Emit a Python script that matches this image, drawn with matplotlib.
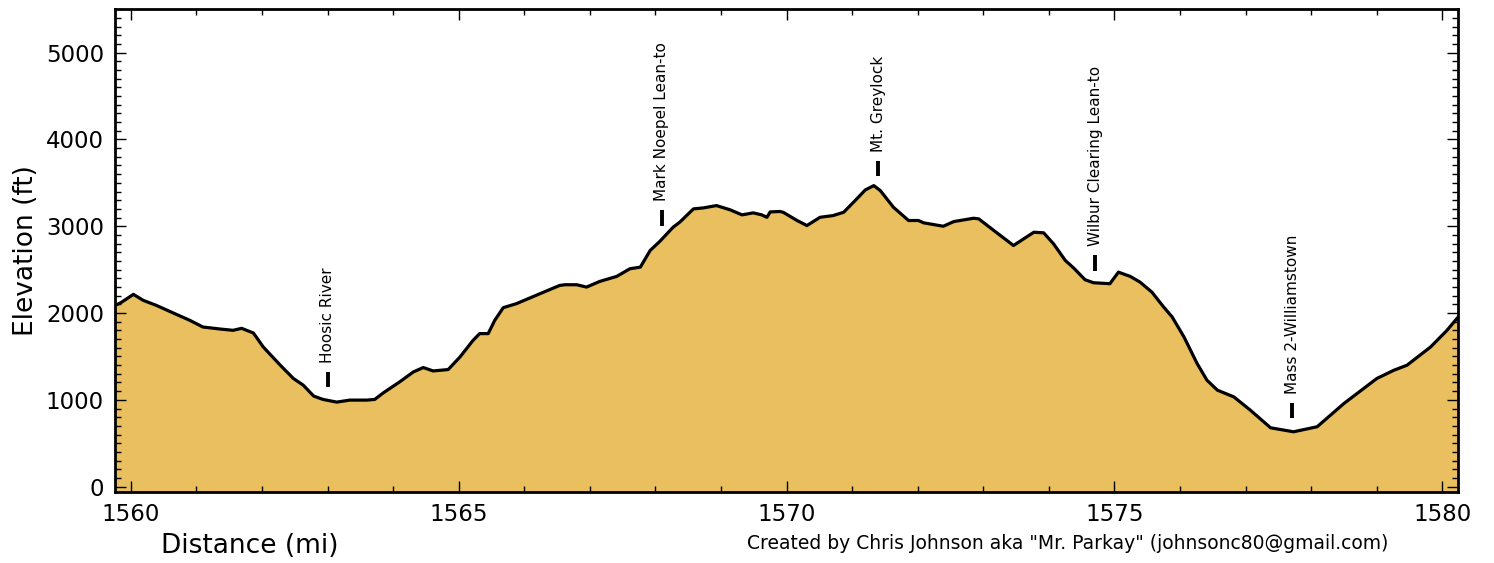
import matplotlib
matplotlib.use("Agg")
import matplotlib.pyplot as plt
from matplotlib.ticker import MultipleLocator

# --- dados do perfil (milha AT, elevacao em pes) ---
milhas = [1559.76, 1559.85, 1560.04, 1560.19, 1560.39, 1560.65, 1560.90, 1561.10,
          1561.36, 1561.56, 1561.69, 1561.87, 1562.02, 1562.28, 1562.48, 1562.63,
          1562.79, 1562.93, 1563.14, 1563.34, 1563.60, 1563.72, 1563.85, 1564.10,
          1564.31, 1564.46, 1564.61, 1564.84, 1565.02, 1565.22, 1565.32, 1565.45,
          1565.55, 1565.68, 1565.88, 1566.24, 1566.54, 1566.62, 1566.80, 1566.95,
          1567.15, 1567.41, 1567.61, 1567.77, 1567.92, 1568.07, 1568.27, 1568.37,
          1568.58, 1568.73, 1568.93, 1569.14, 1569.32, 1569.49, 1569.62, 1569.70,
          1569.75, 1569.90, 1569.95, 1570.16, 1570.31, 1570.51, 1570.71, 1570.87,
          1571.02, 1571.20, 1571.33, 1571.43, 1571.63, 1571.86, 1572.01, 1572.09,
          1572.39, 1572.55, 1572.85, 1572.93, 1573.16, 1573.46, 1573.77, 1573.92,
          1574.07, 1574.25, 1574.38, 1574.55, 1574.68, 1574.93, 1575.06, 1575.24,
          1575.39, 1575.57, 1575.75, 1575.88, 1576.06, 1576.26, 1576.41, 1576.57,
          1576.82, 1577.07, 1577.38, 1577.73, 1578.09, 1578.50, 1579.00, 1579.26,
          1579.46, 1579.82, 1580.07, 1580.24]
elevacao = [2087, 2120, 2215, 2146, 2088, 2000, 1916, 1839,
            1816, 1801, 1824, 1770, 1609, 1399, 1246, 1169,
            1043, 1005, 974, 997, 997, 1005, 1080, 1207,
            1322, 1372, 1333, 1349, 1494, 1686, 1763, 1763,
            1916, 2062, 2108, 2223, 2318, 2326, 2326, 2299,
            2364, 2422, 2510, 2529, 2721, 2828, 2989, 3046,
            3200, 3211, 3238, 3189, 3131, 3154, 3131, 3103,
            3165, 3170, 3160, 3066, 3008, 3103, 3123, 3161,
            3276, 3418, 3468, 3410, 3218, 3066, 3066, 3039,
            3000, 3054, 3092, 3085, 2951, 2778, 2931, 2924,
            2798, 2606, 2517, 2384, 2349, 2338, 2471, 2422,
            2356, 2241, 2069, 1954, 1724, 1418, 1226, 1111,
            1034, 882, 678, 632, 690, 959, 1246, 1341,
            1399, 1609, 1801, 1954]

# --- pontos de referencia ---
locais = ["Hoosic River", "Mark Noepel Lean-to", "Mt. Greylock",
          "Wilbur Clearing Lean-to", "Mass 2-Williamstown"]
locais_milha = [1563.0, 1568.1, 1571.4, 1574.71, 1577.71]
locais_base = [1145, 3005, 3575, 2490, 786]

COR_PERFIL = '#e9bf5f'

fig = plt.figure(figsize=(14.94, 5.63), dpi=100)
ax = fig.add_axes([0.077, 0.1256, 0.899, 0.858])

ax.fill_between(milhas, elevacao, -1000, color=COR_PERFIL, linewidth=0)
ax.plot(milhas, elevacao, color='black', linewidth=2.3, solid_joinstyle='round')

for nome, m, base in zip(locais, locais_milha, locais_base):
    ax.plot([m, m], [base, base + 180], color='black', linewidth=2.8,
            solid_capstyle='butt')
    ax.text(m, base + 285, nome, rotation=90, ha='center', va='bottom',
            fontsize=11)

ax.set_xlim(milhas[0], milhas[-1])
ax.set_ylim(-65, 5500)

ax.xaxis.set_major_locator(MultipleLocator(5))
ax.xaxis.set_minor_locator(MultipleLocator(1))
ax.yaxis.set_major_locator(MultipleLocator(1000))
ax.yaxis.set_minor_locator(MultipleLocator(100))
ax.tick_params(which='both', direction='in', top=True, right=True, width=1)
ax.tick_params(which='major', length=8, labelsize=16.5, pad=8)
ax.tick_params(which='minor', length=4)
for s in ax.spines.values():
    s.set_linewidth(2)

ax.set_ylabel("Elevation (ft)", fontsize=19, labelpad=5)
fig.text(0.167, 0.031, "Distance (mi)", fontsize=19, ha='center', va='center')
fig.text(0.5, 0.035, 'Created by Chris Johnson aka "Mr. Parkay" (johnsonc80@gmail.com)',
         fontsize=13.5, ha='left', va='center')

fig.savefig("out.png", dpi=100)
